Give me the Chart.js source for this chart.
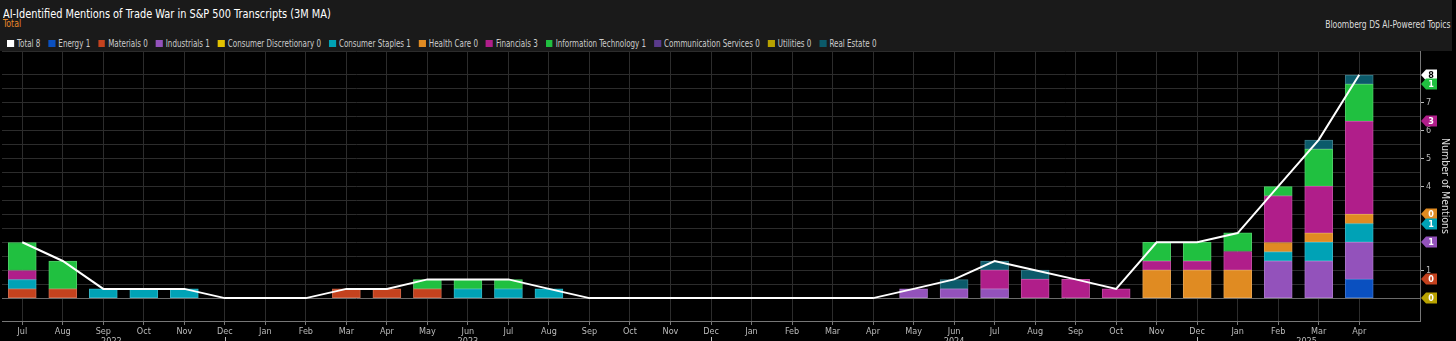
<!DOCTYPE html>
<html>
<head>
<meta charset="utf-8">
<script src="https://cdn.jsdelivr.net/npm/chart.js@4.4.1/dist/chart.umd.min.js"></script>
<style>
  body { margin: 0; background: #000; width: 1456px; height: 341px; overflow: hidden; font-family: 'Liberation Sans Narrow', 'DejaVu Sans Condensed', sans-serif; }
  #hdr { position: absolute; left: 0; top: 0; width: 1452px; height: 51px; background: #1a1a1a; }
  #title { position: absolute; left: 3px; top: 6px; color: #fff; font-size: 12.5px; white-space: nowrap; transform: scaleX(0.87); transform-origin: 0 0; }
  #sub { position: absolute; left: 3px; top: 18px; color: #e8892b; font-size: 10px; transform: scaleX(0.87); transform-origin: 0 0; }
  #src { position: absolute; right: 1px; top: 19px; color: #ddd; font-size: 10px; white-space: nowrap; transform: scaleX(0.85); transform-origin: 100% 0; }
  #legend { position: absolute; left: 7px; top: 38px; display: flex; color: #ccc; font-size: 10px; white-space: nowrap; transform: scaleX(0.795); transform-origin: 0 0; }
  #legend span.item { display: flex; align-items: center; margin-right: 10px; }
  #legend span.box { width: 8.8px; height: 7px; margin-right: 3.8px; display: inline-block; }
  #wrap { position: absolute; left: 0; top: 51px; width: 1456px; height: 290px; }
</style>
</head>
<body>
<div id="hdr">
  <div id="title">AI-Identified Mentions of Trade War in S&amp;P 500 Transcripts (3M MA)</div>
  <div id="sub">Total</div>
  <div id="src">Bloomberg DS AI-Powered Topics</div>
  <div id="legend"></div>
</div>
<div id="wrap"><canvas id="chartMentions"></canvas></div>
<script>
// months Jul 2022 .. Apr 2025 (3M moving average values)
let months = ['Jul','Aug','Sep','Oct','Nov','Dec','Jan','Feb','Mar','Apr','May','Jun',
              'Jul','Aug','Sep','Oct','Nov','Dec','Jan','Feb','Mar','Apr','May','Jun',
              'Jul','Aug','Sep','Oct','Nov','Dec','Jan','Feb','Mar','Apr']
let years = ['2022', '2023', '2024', '2025']
let yearAt = [2.2, 11, 23, 31.7]
let yearBreaks = [5, 17, 29]

let total       = [2, 1.33, 0.33, 0.33, 0.33, 0, 0, 0, 0.33, 0.33, 0.67, 0.67, 0.67, 0.33, 0, 0, 0, 0, 0, 0, 0, 0, 0.33, 0.67, 1.33, 1, 0.67, 0.33, 2, 2, 2.33, 4, 5.67, 8]
let energy      = [0, 0, 0, 0, 0, 0, 0, 0, 0, 0, 0, 0, 0, 0, 0, 0, 0, 0, 0, 0, 0, 0, 0, 0, 0, 0, 0, 0, 0, 0, 0, 0, 0, 0.67]
let materials   = [0.33, 0.33, 0, 0, 0, 0, 0, 0, 0.33, 0.33, 0.33, 0, 0, 0, 0, 0, 0, 0, 0, 0, 0, 0, 0, 0, 0, 0, 0, 0, 0, 0, 0, 0, 0, 0]
let industrials = [0, 0, 0, 0, 0, 0, 0, 0, 0, 0, 0, 0, 0, 0, 0, 0, 0, 0, 0, 0, 0, 0, 0.33, 0.33, 0.33, 0, 0, 0, 0, 0, 0, 1.33, 1.33, 1.33]
let consDisc    = [0, 0, 0, 0, 0, 0, 0, 0, 0, 0, 0, 0, 0, 0, 0, 0, 0, 0, 0, 0, 0, 0, 0, 0, 0, 0, 0, 0, 0, 0, 0, 0, 0, 0]
let consStaples = [0.33, 0, 0.33, 0.33, 0.33, 0, 0, 0, 0, 0, 0, 0.33, 0.33, 0.33, 0, 0, 0, 0, 0, 0, 0, 0, 0, 0, 0, 0, 0, 0, 0, 0, 0, 0.33, 0.67, 0.67]
let healthCare  = [0, 0, 0, 0, 0, 0, 0, 0, 0, 0, 0, 0, 0, 0, 0, 0, 0, 0, 0, 0, 0, 0, 0, 0, 0, 0, 0, 0, 1, 1, 1, 0.33, 0.33, 0.33]
let financials  = [0.33, 0, 0, 0, 0, 0, 0, 0, 0, 0, 0, 0, 0, 0, 0, 0, 0, 0, 0, 0, 0, 0, 0, 0, 0.67, 0.67, 0.67, 0.33, 0.33, 0.33, 0.67, 1.67, 1.67, 3.33]
let infoTech    = [1, 1, 0, 0, 0, 0, 0, 0, 0, 0, 0.33, 0.33, 0.33, 0, 0, 0, 0, 0, 0, 0, 0, 0, 0, 0, 0, 0, 0, 0, 0.67, 0.67, 0.67, 0.33, 1.33, 1.33]
let commServ    = [0, 0, 0, 0, 0, 0, 0, 0, 0, 0, 0, 0, 0, 0, 0, 0, 0, 0, 0, 0, 0, 0, 0, 0, 0, 0, 0, 0, 0, 0, 0, 0, 0, 0]
let utilities   = [0, 0, 0, 0, 0, 0, 0, 0, 0, 0, 0, 0, 0, 0, 0, 0, 0, 0, 0, 0, 0, 0, 0, 0, 0, 0, 0, 0, 0, 0, 0, 0, 0, 0]
let realEstate  = [0, 0, 0, 0, 0, 0, 0, 0, 0, 0, 0, 0, 0, 0, 0, 0, 0, 0, 0, 0, 0, 0, 0, 0.33, 0.33, 0.33, 0, 0, 0, 0, 0, 0, 0.33, 0.33]

let sectorNames = ['Energy','Materials','Industrials','Consumer Discretionary','Consumer Staples','Health Care',
                   'Financials','Information Technology','Communication Services','Utilities','Real Estate']
let sectorData = [energy, materials, industrials, consDisc, consStaples, healthCare, financials, infoTech, commServ, utilities, realEstate]
let sectorColors = ['#0a50c0','#c4421e','#9352bb','#e2c200','#00a2b6','#e08b22','#b01e8a','#20c040','#5b3b8c','#b8a200','#0b5a6a']

// right-edge value tags (value on axis, text, colour)
let tagValues = [8, 7.67, 6.33, 3, 2.67, 2, 0.67, 0]
let tagTexts  = ['8', '1', '3', '0', '1', '1', '0', '0']
let tagColors = ['#ffffff', '#20c040', '#b01e8a', '#e08b22', '#00a2b6', '#9352bb', '#c4421e', '#b8a200']

const FONT = "'Liberation Sans Narrow', 'DejaVu Sans Condensed', sans-serif"
Chart.defaults.font.family = FONT

// legend in header
let legendHtml = '<span class="item"><span class="box" style="background:#fff"></span>Total ' + Math.round(total[total.length - 1]) + '</span>'
sectorNames.forEach(function (name, i) {
    let last = sectorData[i][sectorData[i].length - 1]
    legendHtml += '<span class="item"><span class="box" style="background:' + sectorColors[i] + '"></span>' + name + ' ' + Math.round(last) + '</span>'
})
document.getElementById('legend').innerHTML = legendHtml

function lighten (hex, k) {
    let n = parseInt(hex.slice(1), 16)
    let r = (n >> 16) & 255, g = (n >> 8) & 255, b = n & 255
    r = Math.round(r + (255 - r) * k); g = Math.round(g + (255 - g) * k); b = Math.round(b + (255 - b) * k)
    return 'rgb(' + r + ',' + g + ',' + b + ')'
}

let datasets = [{
    type: 'line',
    label: 'Total',
    data: total,
    borderColor: '#ffffff',
    borderWidth: 2,
    pointRadius: 0,
    tension: 0,
    stack: 'total',
    order: 0
}]
sectorNames.forEach(function (name, i) {
    datasets.push({
        type: 'bar',
        label: name,
        data: sectorData[i],
        backgroundColor: sectorColors[i],
        borderColor: lighten(sectorColors[i], 0.2),
        borderWidth: 1,
        borderSkipped: false,
        barThickness: 28,
        stack: 'sectors',
        order: 1
    })
})

let labelsAll = months.concat([''])
let hiddenTicks = [0, 2, 3, 8]

let extras = {
    id: 'extras',
    afterDraw: function (chart) {
        let ctx = chart.ctx
        let xs = chart.scales.x, ys = chart.scales.y
        let area = chart.chartArea
        ctx.save()
        // year labels + year separators
        ctx.fillStyle = '#bbb'
        ctx.font = '9px ' + FONT
        ctx.textAlign = 'center'
        ctx.textBaseline = 'top'
        years.forEach(function (yr, i) {
            ctx.fillText(yr, xs.getPixelForValue(yearAt[i]), area.bottom + 16)
        })
        ctx.strokeStyle = '#bbb'
        ctx.lineWidth = 1
        yearBreaks.forEach(function (idx) {
            let x = Math.round(xs.getPixelForValue(idx)) + 0.5
            ctx.beginPath(); ctx.moveTo(x, area.bottom + 16); ctx.lineTo(x, area.bottom + 22); ctx.stroke()
        })
        // value tags on the right axis
        ctx.font = 'bold 9px ' + FONT
        tagValues.forEach(function (v, i) {
            let y = Math.round(ys.getPixelForValue(v))
            let x0 = area.right + 1
            ctx.fillStyle = tagColors[i]
            ctx.beginPath()
            ctx.moveTo(x0, y)
            ctx.lineTo(x0 + 5, y - 5.5)
            ctx.lineTo(x0 + 16, y - 5.5)
            ctx.lineTo(x0 + 16, y + 5.5)
            ctx.lineTo(x0 + 5, y + 5.5)
            ctx.closePath()
            ctx.fill()
            ctx.fillStyle = tagColors[i] === '#ffffff' ? '#000' : '#fff'
            ctx.textAlign = 'center'
            ctx.textBaseline = 'middle'
            ctx.fillText(tagTexts[i], x0 + 10, y + 0.5)
        })
        ctx.restore()
    }
}

let canvs = document.getElementById('chartMentions').getContext('2d')
let chartMentions = new Chart(canvs, {
    data: { labels: labelsAll, datasets: datasets },
    plugins: [extras],
    options: {
        responsive: true,
        maintainAspectRatio: false,
        animation: false,
        layout: { padding: { left: 2, top: 0, right: 0, bottom: 0 } },
        plugins: { legend: { display: false }, tooltip: { enabled: false } },
        scales: {
            x: {
                stacked: true,
                offset: true,
                grid: {
                    offset: false,
                    color: function (c) { return c.index === months.length ? 'transparent' : '#2c2c2c' },
                    tickColor: function (c) { return c.index === months.length ? 'transparent' : '#777' },
                    tickLength: 4
                },
                border: { color: '#777' },
                ticks: { color: '#bbb', font: { size: 9 }, maxRotation: 0, autoSkip: false, padding: 1 },
                afterFit: function (s) { s.height = 20; s.paddingLeft = 0; s.paddingRight = 0 }
            },
            y: {
                position: 'right',
                stacked: true,
                min: -0.82,
                max: 8.85,
                grid: {
                    color: function (c) { return c.tick && c.tick.value === 0 ? '#6a6a6a' : '#2c2c2c' },
                    tickColor: function (c) {
                        let v = c.tick ? c.tick.value : 0.5
                        return (Number.isInteger(v) && hiddenTicks.indexOf(v) < 0) ? '#bbb' : 'transparent'
                    },
                    tickLength: 4
                },
                border: { color: '#777' },
                ticks: {
                    stepSize: 0.5,
                    color: '#bbb',
                    font: { size: 9 },
                    padding: 2,
                    callback: function (v) {
                        return (Number.isInteger(v) && hiddenTicks.indexOf(v) < 0) ? String(v) : ''
                    }
                },
                title: { display: true, text: 'Number of Mentions', color: '#ddd', font: { size: 10.5 }, padding: { top: 5, bottom: 2 } },
                afterFit: function (s) { s.width = 36; s.paddingTop = 0; s.paddingBottom = 0 }
            }
        }
    }
})
</script>
</body>
</html>
